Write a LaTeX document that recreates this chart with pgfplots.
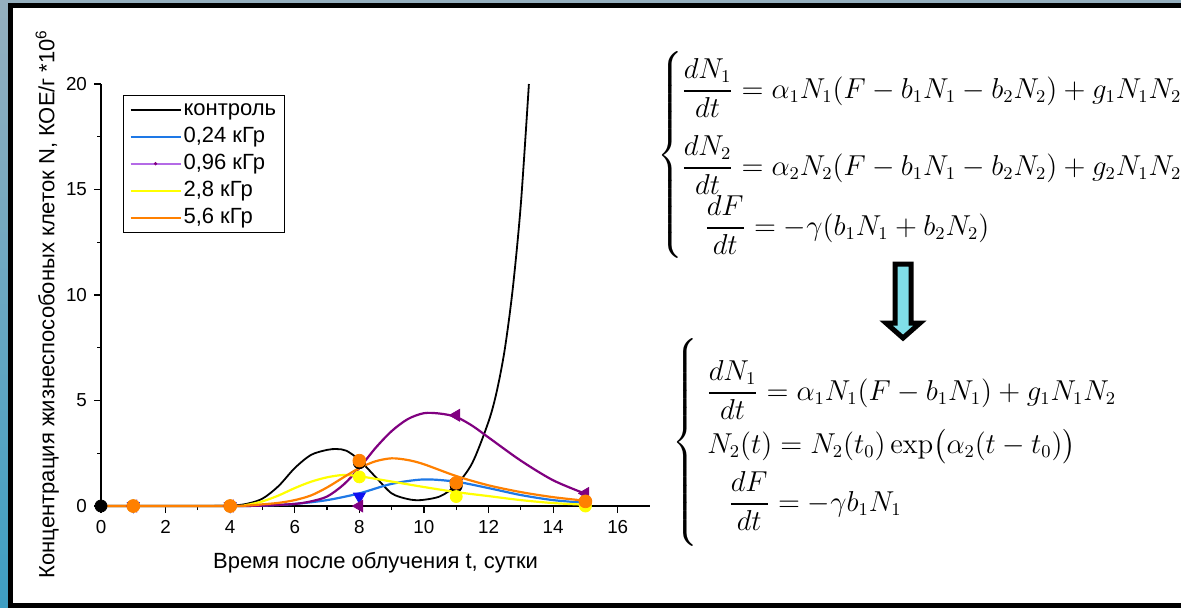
\documentclass[border=0pt]{standalone}
\usepackage[no-math]{fontspec}
\setmainfont{Liberation Sans}
\usepackage{amsmath}
\usepackage{pgfplots}
\pgfplotsset{compat=1.18}

\definecolor{bgtop}{HTML}{95AFBE}
\definecolor{bgbot}{HTML}{3E9EC2}
\definecolor{blueline}{HTML}{1E78E6}
\definecolor{bluemark}{HTML}{1010F0}
\definecolor{purp}{HTML}{800080}
\definecolor{legpurp}{HTML}{B46AE6}
\definecolor{yel}{HTML}{FFFF00}
\definecolor{orng}{HTML}{FF8000}
\definecolor{arrowfill}{HTML}{80DEE8}

\newcommand\fr[2]{\genfrac{}{}{0.9pt}{0}{#1}{#2}}
\newcommand\eqfont{\fontsize{13.3}{16}\selectfont}

\begin{document}
\begin{tikzpicture}
\path[use as bounding box] (0,0) rectangle (590.5pt,-303.5pt);
\clip (0,0) rectangle (590.5pt,-303.5pt);

% slide background and frame
\shade[top color=bgtop, bottom color=bgbot] (0,0) rectangle (590.5pt,-303.5pt);
\draw[line width=2.5pt, fill=white] (5.2pt,-2.5pt) rectangle (600pt,-302.6pt);

\begin{axis}[
  at={(50.5pt,-253pt)}, anchor=south west,
  scale only axis, width=274.5pt, height=211pt,
  xmin=0, xmax=17, ymin=0, ymax=20,
  axis lines*=left,
  axis line style={line width=0.65pt},
  tick align=outside,
  xtick={0,2,...,16}, minor xtick={1,3,...,15},
  ytick={0,5,...,20}, minor ytick={2.5,7.5,12.5,17.5},
  major tick length=3.5pt, minor tick length=2pt,
  every tick/.style={black, line width=0.6pt},
  tick label style={font=\fontsize{9.4}{11}\selectfont},
  /pgf/number format/assume math mode=true,
  clip=false,
  xlabel={Время после облучения t, сутки},
  ylabel={Концентрация жизнеспособоных клеток N, КОЕ/г *10\textsuperscript{6}},
  label style={font=\fontsize{11}{13}\selectfont},
  xlabel style={at={(axis description cs:0.5,-0.135)}, anchor=center},
  ylabel style={at={(axis description cs:-0.098,0.479)}, anchor=center},
  legend image code/.code={\draw[#1] (0pt,0pt) -- (25pt,0pt);},
  legend style={at={(axis cs:0.68,19.5)}, anchor=north west,
    draw=black, line width=0.6pt, inner xsep=3pt, inner ysep=0.5pt,
    row sep=0pt, font=\fontsize{11}{13}\selectfont,
    nodes={inner sep=1pt, text height=8.8pt, text depth=2.7pt},
    cells={anchor=west}},
]

% model curves
\addplot[black, line width=0.9pt, smooth, forget plot] coordinates {
 (0,0) (1,0) (2,0) (3,0) (4,0.02) (4.5,0.1) (5,0.35) (5.5,0.95) (6,1.8)
 (6.5,2.42) (7,2.66) (7.3,2.7) (7.6,2.62) (8,2.18) (8.5,1.38) (9,0.6)
 (9.5,0.33) (9.9,0.28) (10.5,0.46) (11,1.0) (11.5,2.05) (12,4.0)
 (12.25,5.4) (12.5,7.4) (12.75,10.3) (13,14.3) (13.25,20)};
\addplot[blueline, line width=1.1pt, smooth, forget plot] coordinates {
 (0,0) (4,0) (5,0.02) (6,0.1) (7,0.28) (8,0.6) (9,1.05) (10,1.26)
 (11,1.15) (12,0.85) (13,0.52) (14,0.28) (15,0.15)};
\addplot[purp, line width=1.1pt, smooth, forget plot] coordinates {
 (0,0) (4,0) (5,0.02) (6,0.1) (6.5,0.22) (7,0.45) (7.5,1.0) (8,1.8)
 (8.5,2.75) (9,3.55) (9.5,4.12) (10,4.4) (10.5,4.38) (11,4.22)
 (11.5,3.8) (12,3.25) (13,2.15) (14,1.22) (15,0.58)};
\addplot[yel, line width=1.1pt, smooth, forget plot] coordinates {
 (0,0) (4,0) (4.5,0.05) (5,0.22) (5.5,0.5) (6,0.85) (6.5,1.15) (7,1.36)
 (7.5,1.47) (8,1.41) (9,1.16) (10,0.9) (11,0.66) (12,0.47) (13,0.28)
 (14,0.14) (15,0.06)};
\addplot[orng, line width=1.1pt, smooth, forget plot] coordinates {
 (0,0) (4,0) (4.5,0.02) (5,0.08) (5.5,0.15) (6,0.28) (6.5,0.5) (7,0.88)
 (7.5,1.35) (8,1.8) (8.5,2.12) (9,2.26) (9.5,2.18) (10,1.98) (11,1.42)
 (12,0.98) (13,0.66) (14,0.42) (15,0.25)};

% measured points
\addplot[only marks, mark=*, mark size=3pt, black, forget plot] coordinates {
 (0,0) (1,0) (4,0) (8,2.05) (11,0.95) (15,0.2)};
\addplot[only marks, mark=triangle*, mark size=3.4pt, bluemark,
  mark options={rotate=180}, forget plot] coordinates {
 (1,0) (4,0) (8,0.45) (11,1.1) (15,0.1)};
\addplot[only marks, mark=triangle*, mark size=3.4pt, purp,
  mark options={rotate=90}, forget plot] coordinates {
 (1,0) (4,0) (8,0) (11,4.3) (15,0.6)};
\addplot[only marks, mark=*, mark size=3pt, yel, forget plot] coordinates {
 (1,0) (4,0) (8,1.38) (11,0.45) (15,0)};
\addplot[only marks, mark=*, mark size=3.2pt, orng, forget plot] coordinates {
 (1,0) (4,0) (8,2.15) (11,1.1) (15,0.22)};

% legend
\addlegendimage{color=black, line width=1pt}
\addlegendentry{контроль}
\addlegendimage{color=blueline, line width=1pt}
\addlegendentry{0,24 кГр}
\addlegendimage{legend image code/.code={\draw[legpurp, line width=1pt] (0pt,0pt) -- (25pt,0pt); \fill[purp] (12.5pt,0pt) circle (0.5pt);}}
\addlegendentry{0,96 кГр}
\addlegendimage{color=yel, line width=1pt}
\addlegendentry{2,8 кГр}
\addlegendimage{color=orng, line width=1pt}
\addlegendentry{5,6 кГр}
\end{axis}

% full model
\node[anchor=west, inner sep=0pt] at (328.5pt,-77.5pt) {\eqfont$\left\{\vcenter{\hbox{\rule{0pt}{108pt}}}\right.$};
\node[anchor=base west, inner sep=0pt, font=\eqfont] at (340.5pt,-49pt)
  {$\displaystyle \fr{dN_1}{dt}=\alpha_1N_1(F-b_1N_1-b_2N_2)+g_1N_1N_2$};
\node[anchor=base west, inner sep=0pt, font=\eqfont] at (340.5pt,-87.5pt)
  {$\displaystyle \fr{dN_2}{dt}=\alpha_2N_2(F-b_1N_1-b_2N_2)+g_2N_1N_2$};
\node[anchor=base west, inner sep=0pt, font=\eqfont] at (352pt,-117.5pt)
  {$\displaystyle \fr{dF}{dt}=-\gamma(b_1N_1+b_2N_2)$};

% arrow
\filldraw[fill=arrowfill, draw=black, line width=2.5pt, line join=miter]
  (447.5pt,-132pt) -- (455.5pt,-132pt) -- (455.5pt,-161.5pt) -- (460pt,-161.5pt)
  -- (451.5pt,-169pt) -- (443pt,-161.5pt) -- (447.5pt,-161.5pt) -- cycle;

% reduced model
\node[anchor=west, inner sep=0pt] at (336pt,-221.25pt) {\eqfont$\left\{\vcenter{\hbox{\rule{0pt}{102pt}}}\right.$};
\node[anchor=base west, inner sep=0pt, font=\eqfont] at (353pt,-200pt)
  {$\displaystyle \fr{dN_1}{dt}=\alpha_1N_1(F-b_1N_1)+g_1N_1N_2$};
\node[anchor=base west, inner sep=0pt, font=\eqfont] at (353.5pt,-226.7pt)
  {$\displaystyle N_2(t)=N_2(t_0)\exp\bigl(\alpha_2(t-t_0)\bigr)$};
\node[anchor=base west, inner sep=0pt, font=\eqfont] at (364pt,-255.5pt)
  {$\displaystyle \fr{dF}{dt}=-\gamma b_1N_1$};
\end{tikzpicture}
\end{document}
